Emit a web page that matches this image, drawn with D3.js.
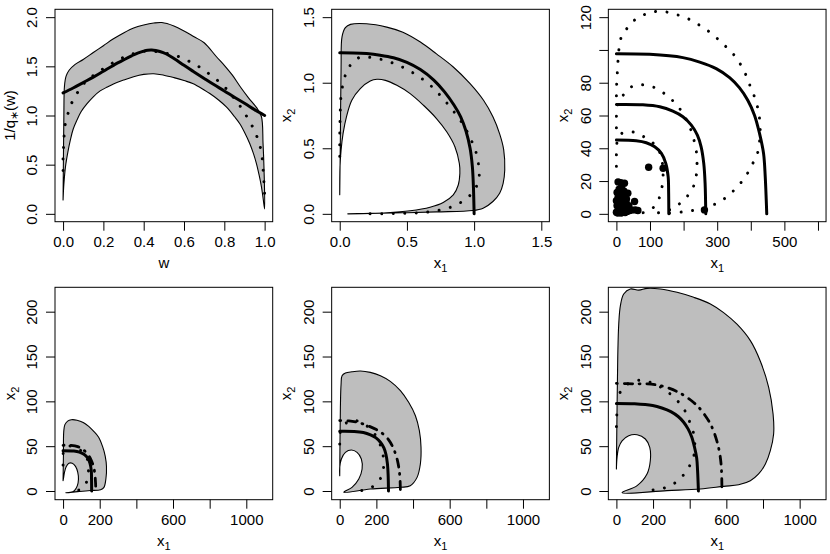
<!DOCTYPE html>
<html><head><meta charset="utf-8">
<script src="https://cdn.jsdelivr.net/npm/d3@7/dist/d3.min.js"></script>
<style>body{margin:0;background:#fff}svg{display:block}</style>
</head><body>
<script>
// ---------- Panel 1: 1/q*(w) against w ----------
const p1Upper = [[0,0.14],[0.002,0.6],[0.004,1.0],[0.007,1.3],[0.015,1.40],[0.03,1.46],[0.06,1.52],[0.1,1.57],[0.15,1.64],[0.2,1.71],[0.25,1.78],[0.3,1.84],[0.35,1.89],[0.4,1.92],[0.45,1.94],[0.49,1.945],[0.55,1.91],[0.6,1.86],[0.65,1.80],[0.7,1.74],[0.76,1.6],[0.8,1.51],[0.84,1.41],[0.88,1.29],[0.92,1.18],[0.96,1.08],[0.984,0.99],[0.992,0.72],[0.997,0.45],[1.0,0.05]];
const p1Lower = [[0,0.14],[0.004,0.3],[0.012,0.48],[0.024,0.63],[0.036,0.75],[0.05,0.86],[0.069,0.953],[0.09,1.04],[0.119,1.12],[0.15,1.19],[0.184,1.25],[0.22,1.29],[0.25,1.32],[0.3,1.36],[0.35,1.395],[0.4,1.418],[0.45,1.425],[0.5,1.41],[0.55,1.385],[0.6,1.355],[0.646,1.324],[0.7,1.26],[0.728,1.223],[0.77,1.16],[0.81,1.087],[0.85,0.99],[0.876,0.919],[0.9,0.83],[0.926,0.716],[0.945,0.61],[0.959,0.513],[0.973,0.39],[0.984,0.277],[0.993,0.15],[1.0,0.05]];
const p1Solid = [[0,1.23],[0.05,1.28],[0.1,1.335],[0.15,1.39],[0.2,1.45],[0.25,1.51],[0.3,1.565],[0.34,1.607],[0.37,1.635],[0.4,1.655],[0.42,1.664],[0.44,1.666],[0.46,1.661],[0.48,1.651],[0.51,1.628],[0.55,1.58],[0.6,1.51],[0.65,1.443],[0.7,1.377],[0.75,1.312],[0.8,1.25],[0.85,1.185],[0.9,1.125],[0.95,1.06],[1.0,1.0]];
const p1Dotted = [[0,0.44],[0,0.58],[0.003,0.70],[0.006,0.818],[0.013,0.935],[0.03,1.054],[0.049,1.155],[0.079,1.256],[0.115,1.351],[0.16,1.42],[0.21,1.49],[0.26,1.55],[0.31,1.60],[0.36,1.635],[0.41,1.655],[0.46,1.65],[0.522,1.628],[0.58,1.594],[0.633,1.543],[0.682,1.486],[0.728,1.418],[0.773,1.344],[0.814,1.263],[0.85,1.17],[0.885,1.077],[0.914,0.98],[0.942,0.878],[0.964,0.773],[0.98,0.665],[0.989,0.547],[0.993,0.429],[0.997,0.311],[1.0,0.193]];
const p1xTicks = [0,0.2,0.4,0.6,0.8,1.0];
const p1xLabels = ["0.0","0.2","0.4","0.6","0.8","1.0"];
const p1yTicks = [0,0.5,1,1.5,2];
const p1yLabels = ["0.0","0.5","1.0","1.5","2.0"];

// ---------- Panel 2: unit level curve ----------
const p2Outer = [[0,0.145],[0.005,0.61],[0.01,1.12],[0.017,1.35],[0.042,1.42],[0.08,1.445],[0.2,1.45],[0.35,1.424],[0.47,1.385],[0.6,1.31],[0.72,1.22],[0.845,1.12],[0.97,0.993],[1.07,0.866],[1.14,0.74],[1.19,0.61],[1.22,0.49],[1.228,0.334],[1.216,0.233],[1.19,0.157],[1.14,0.094],[1.067,0.043],[0.99,0.025],[0.72,0.015],[0.47,0.008],[0.227,0.003],[0.06,0]];
const p2Inner = [[0.06,0],[0.178,0.003],[0.35,0.008],[0.524,0.023],[0.672,0.05],[0.77,0.086],[0.845,0.144],[0.882,0.22],[0.894,0.309],[0.89,0.385],[0.857,0.512],[0.796,0.626],[0.72,0.727],[0.623,0.828],[0.524,0.917],[0.425,0.98],[0.34,1.018],[0.277,1.026],[0.227,1.013],[0.153,0.955],[0.09,0.866],[0.05,0.74],[0.025,0.613],[0.01,0.486],[0.002,0.36],[0,0.145]];
const p2Solid = [[0,1.228],[0.1,1.227],[0.2,1.222],[0.3,1.21],[0.4,1.19],[0.5,1.155],[0.6,1.1],[0.7,1.02],[0.78,0.93],[0.85,0.83],[0.9,0.74],[0.94,0.63],[0.97,0.5],[0.987,0.36],[0.995,0.2],[1.0,0.0]];
const p2Dotted = [[0,0.44],[0,0.58],[0.002,0.698],[0.005,0.813],[0.012,0.923],[0.032,1.022],[0.057,1.098],[0.099,1.157],[0.155,1.196],[0.227,1.193],[0.313,1.177],[0.403,1.147],[0.496,1.104],[0.589,1.047],[0.679,0.976],[0.759,0.891],[0.85,0.778],[0.925,0.67],[0.977,0.566],[1.013,0.473],[1.032,0.386],[1.039,0.305],[1.028,0.235],[1.0,0.18],[0.953,0.124],[0.896,0.084],[0.827,0.051],[0.745,0.028],[0.652,0.013],[0.541,0.006],[0.426,0.003],[0.31,0.001],[0.193,0]];
const p2Ticks = [0,0.5,1,1.5];
const p2Labels = ["0.0","0.5","1.0","1.5"];

// ---------- Panels 3-6: level curves at three levels ----------
const solidA = [[0,45],[59,44.6],[89,43.4],[114,40.9],[134,36.9],[147,30.8],[154,22.7],[155.5,12.6],[156,0]];
const solidB = [[0,66.7],[79,66.5],[129,65.3],[168,62.6],[198,59.2],[223,54.1],[241,48.0],[252,41.0],[260,30.8],[264,18.6],[266,0]];
const solidC = [[0,97.7],[99,97.3],[198,95.3],[248,92.6],[297,88.6],[337,83.1],[366,77.0],[391,69.3],[411,60.2],[426,49.1],[438,36.9],[443,22.7],[446,8.5],[447.5,0]];
const dottedA = [[0,29],[0,36],[1,42.5],[8,47.5],[20,49.5],[49.5,50],[82,47],[110,43],[128,38],[136,32],[139,25],[137,18],[131,12],[122,7],[108,3.5],[92,1.5],[75,0.5],[60,0]];
const dottedB = [[0,52.5],[0,59],[3,66],[12,70.5],[22,72.8],[47.5,77.8],[79,78.7],[114,77],[144,73.2],[168,69],[190,63.7],[208,57.5],[222,51],[232,44],[238,37.9],[240,30.8],[238,23.7],[230,17],[212,11],[190,6.5],[165,3],[140,1.2],[115,0.3]];
const dottedC = [[0,72],[1,80],[3,87],[5,94],[8,101],[15,108],[35,114],[59,119],[89,122],[119,123.5],[153,123],[188,121],[218,118.6],[248,115],[277,111],[303,106.5],[327,101.8],[351,96.7],[371,90.6],[386,84.5],[398,78],[411,71.4],[421,64.3],[426,58.2],[428,51],[426,44],[420,37],[405,30.4],[389,24.3],[369,18.6],[345,13.4],[319,8.9],[289,5.5],[258,3.2],[226,2],[190,1],[150,0.3]];
const obsX1 = [0,4,9,14,20,26,32,40,45,56,64,2,8,15,22,29,37,54,0,5,12,18,25,34,2,8,15,22,5,13,24,30,10,96,139,262];
const obsX2 = [1,0.5,1,0.5,1,0.8,1.5,2,2.4,2.4,2,5,4,4.5,5,6.5,5,7.5,8,10,8,9,10,12.6,13,15,15.6,14,19.5,19,18.7,9,12,28.4,27.8,2.4];
const p3xTicks = [0,100,200,300,400,500,600];
const p3xLabels = ["0","100","","300","","500",""];
const p3yTicks = [0,20,40,60,80,100,120];
const p3yLabels = ["0","20","40","60","80","","120"];

const bandAOuter = [[0,11.5],[2,40],[3.6,66],[10,74],[25,78],[45,79.5],[76,79],[110,76.5],[140,72],[165,67],[194,60],[215,50],[230,39],[237,27],[234,14],[223,4],[205,1.5],[150,0.5],[90,-0.5],[40,-1.5],[15,-2]];
const bandAInner = [[15,-2],[40,-1.5],[62,0.5],[78,6],[84,13],[80,21],[68,27.5],[50,31],[32,31],[17,27],[8,21],[3,15],[0,11.5]];
const bandBOuter = [[0,17.1],[3.6,93.3],[7.3,119],[12.7,128.6],[31,131.6],[67,133],[113,133.8],[167,132.3],[222,128.6],[276,122.3],[331,111.9],[376,98.9],[413,84],[434.5,67.3],[443.6,48.7],[440,30.1],[422,15.2],[385,5.9],[331,4.1],[167,2.2],[22,-1.5]];
const bandBInner = [[22,-1.5],[67,4.1],[104,13.4],[122,24.5],[118,35.7],[94.5,43.1],[63.6,45.7],[31,43.1],[9,35.7],[0,26.4],[0,17.1]];
const bandCOuter = [[0,24.5],[3.6,93.3],[7.3,149],[12.7,186],[21.8,206.7],[40,219.7],[76,225.3],[122,224],[167,226],[240,225.3],[331,221.6],[422,216],[513,208.6],[585,199],[658,186],[731,167.7],[785,145],[831,115.6],[855,85.9],[858,63.6],[840,45],[813,30.1],[776,19],[731,11.5],[667,7],[585,5.2],[458,2.2],[276,0.4],[31,-1.9]];
const bandCInner = [[31,-1.9],[113,6],[167,19],[185,33.8],[182,48.7],[158,58],[113,62.8],[67,61.7],[31,56],[12.7,48.7],[3.6,37.5],[0,24.5]];
const dashA = [[0,51],[40,51],[80,49.5],[110,46],[135,41],[152,35],[165,28],[173,20],[177,10],[179,0]];
const dashB = [[0,78.5],[50,78.2],[100,76.5],[150,73],[200,68.5],[240,63],[267,57],[290,49],[305,41],[316,33],[324,24],[329,13],[331,0]];
const dashC = [[0,120],[100,119.5],[170,119.5],[240,117.5],[290,114.5],[340,110],[380,105],[420,99],[455,92],[485,84],[510,76],[530,67],[548,56],[560,46],[568,36],[573,25],[575,14],[576,0]];
const bxTicks = [0,200,400,600,800,1000];
const bxLabels = ["0","200","","600","","1000"];
const byTicks = [0,50,100,150,200];
const byLabels = ["0","50","100","150","200"];

// ---------- drawing ----------
const W = 830, H = 554;
const FONT = "'Liberation Sans', Arial, Helvetica, sans-serif";
const svg = d3.select("body").append("svg").attr("width", W).attr("height", H)
  .style("font-family", FONT);

const PW = 217.7, PH = 212.4;
let clipId = 0;

function drawPanel(p) {
  const left = 55 + p.col * 276.67, top = 9.3 + p.row * 278;
  const x = d3.scaleLinear().domain(p.xd).range([left, left + PW]);
  const y = d3.scaleLinear().domain(p.yd).range([top + PH, top]);
  const ln = d3.line().x(d => x(d[0])).y(d => y(d[1])).curve(d3.curveCatmullRom.alpha(0.5));
  const g = svg.append("g");
  const cid = "clip" + (clipId++);
  svg.append("clipPath").attr("id", cid).append("rect")
    .attr("x", left).attr("y", top).attr("width", PW).attr("height", PH);
  const pg = g.append("g").attr("clip-path", `url(#${cid})`);

  (p.bands || []).forEach(b => {
    const pts = b[0].concat(b[1].slice(1));
    pg.append("path").attr("d", ln(pts) + "Z")
      .attr("fill", "#BEBEBE").attr("stroke", "#000").attr("stroke-width", 1.1)
      .attr("stroke-linejoin", "round");
  });
  (p.solids || []).forEach(s => {
    pg.append("path").attr("d", ln(s)).attr("fill", "none").attr("stroke", "#000")
      .attr("stroke-width", 3).attr("stroke-linecap", "round").attr("stroke-linejoin", "round");
  });
  (p.dotted || []).forEach(s => {
    pg.append("path").attr("d", ln(s)).attr("fill", "none").attr("stroke", "#000")
      .attr("stroke-width", 3).attr("stroke-linecap", "round")
      .attr("stroke-dasharray", "0.01 11.5");
  });
  (p.dashdot || []).forEach(s => {
    pg.append("path").attr("d", ln(s)).attr("fill", "none").attr("stroke", "#000")
      .attr("stroke-width", 2.8).attr("stroke-linecap", "round")
      .attr("stroke-dasharray", "1 7 8 6.5");
  });
  if (p.pts) {
    pg.selectAll("circle.obs").data(p.pts[0]).enter().append("circle")
      .attr("cx", d => x(d)).attr("cy", (d, i) => y(p.pts[1][i])).attr("r", 3.7)
      .attr("fill", "#000");
  }
  // box
  g.append("rect").attr("x", left).attr("y", top).attr("width", PW).attr("height", PH)
    .attr("fill", "none").attr("stroke", "#000").attr("stroke-width", 1);

  // x axis
  const xa = g.append("g").attr("transform", `translate(0,${top + PH})`)
    .call(d3.axisBottom(x).tickValues(p.xt).tickSize(9).tickPadding(5.8)
      .tickFormat((d, i) => p.xl[i]));
  xa.select(".domain").remove();
  xa.selectAll("line").attr("stroke", "#000");
  xa.selectAll("text").attr("fill", "#000").style("font-size", "15px").style("font-family", FONT);
  // y axis
  const ya = g.append("g").attr("transform", `translate(${left},0)`)
    .call(d3.axisLeft(y).tickValues(p.yt).tickSize(9).tickFormat((d, i) => p.yl[i]));
  ya.select(".domain").remove();
  ya.selectAll("line").attr("stroke", "#000");
  ya.selectAll("text").attr("fill", "#000").style("font-size", "15px").style("font-family", FONT)
    .attr("x", null).attr("dy", null).attr("y", null)
    .attr("text-anchor", "middle").attr("transform", "translate(-17.6,0) rotate(-90)");

  // x title
  const xt = g.append("text").attr("x", left + PW / 2).attr("y", top + PH + 46)
    .attr("text-anchor", "middle").style("font-size", "15px");
  if (p.xTitle === "w") xt.text("w");
  else { xt.append("tspan").text("x"); xt.append("tspan").attr("dy", 4).style("font-size", "11px").text("1"); }
  // y title
  const yt = g.append("text").attr("text-anchor", "middle").style("font-size", "15px")
    .attr("transform", `translate(${left - 40.5},${top + PH / 2}) rotate(-90)`);
  if (p.yTitle === "q") {
    yt.append("tspan").text("1/q");
    yt.append("tspan").attr("dy", 3.5).style("font-size", "11px").text("\u2217");
    yt.append("tspan").attr("dy", -3.5).text("(w)");
  } else {
    yt.append("tspan").text("x");
    yt.append("tspan").attr("dy", 4).style("font-size", "11px").text("2");
  }
}

const bxd = [-44, 1144], byd = [-9.7, 227.2];
drawPanel({col:0,row:0,xd:[-0.04,1.04],yd:[-0.08,2.08],xt:p1xTicks,xl:p1xLabels,yt:p1yTicks,yl:p1yLabels,
  xTitle:"w",yTitle:"q",bands:[[p1Upper,p1Lower.slice().reverse()]],solids:[p1Solid],dotted:[p1Dotted]});
drawPanel({col:1,row:0,xd:[-0.06,1.56],yd:[-0.06,1.56],xt:p2Ticks,xl:p2Labels,yt:p2Ticks,yl:p2Labels,
  xTitle:"x1",yTitle:"x2",bands:[[p2Outer,p2Inner]],solids:[p2Solid],dotted:[p2Dotted]});
drawPanel({col:2,row:0,xd:[-24,624],yd:[-4.8,124.8],xt:p3xTicks,xl:p3xLabels,yt:p3yTicks,yl:p3yLabels,
  xTitle:"x1",yTitle:"x2",solids:[solidA,solidB,solidC],dotted:[dottedA,dottedB,dottedC],pts:[obsX1,obsX2]});
drawPanel({col:0,row:1,xd:bxd,yd:byd,xt:bxTicks,xl:bxLabels,yt:byTicks,yl:byLabels,
  xTitle:"x1",yTitle:"x2",bands:[[bandAOuter,bandAInner]],solids:[solidA],dotted:[dottedA],dashdot:[dashA]});
drawPanel({col:1,row:1,xd:bxd,yd:byd,xt:bxTicks,xl:bxLabels,yt:byTicks,yl:byLabels,
  xTitle:"x1",yTitle:"x2",bands:[[bandBOuter,bandBInner]],solids:[solidB],dotted:[dottedB],dashdot:[dashB]});
drawPanel({col:2,row:1,xd:bxd,yd:byd,xt:bxTicks,xl:bxLabels,yt:byTicks,yl:byLabels,
  xTitle:"x1",yTitle:"x2",bands:[[bandCOuter,bandCInner]],solids:[solidC],dotted:[dottedC],dashdot:[dashC]});
</script>
</body></html>
